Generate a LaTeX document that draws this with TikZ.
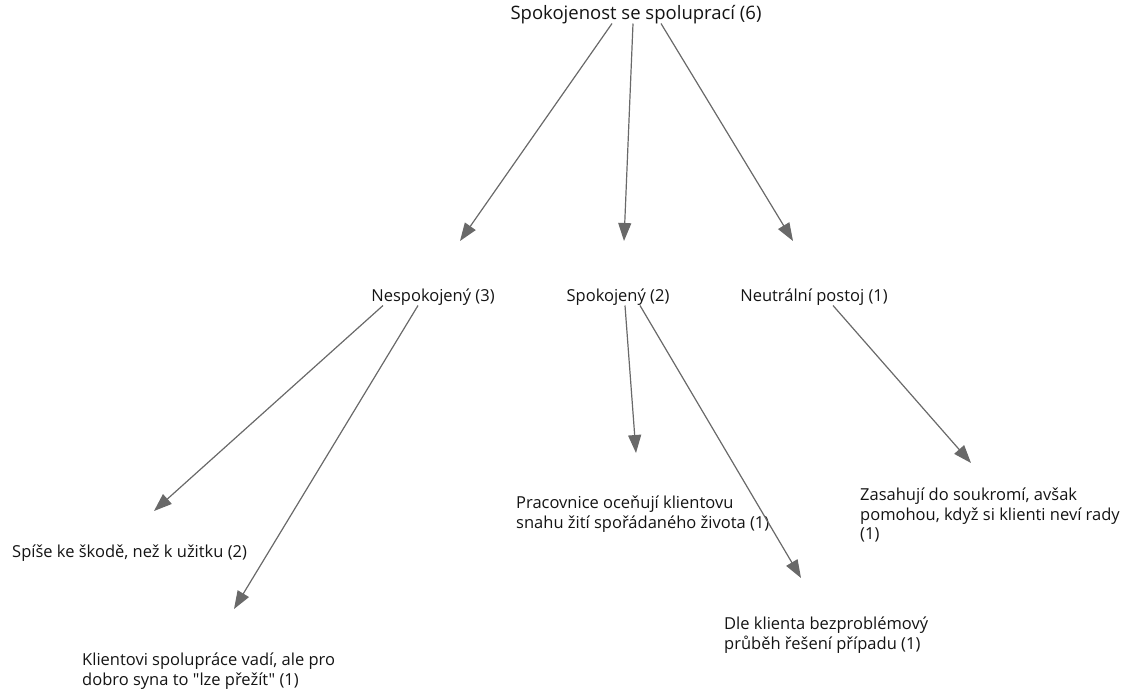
\documentclass[tikz,border=0pt]{standalone}
\usepackage{fontspec}
\setmainfont{Open Sans}[Ligatures=TeXOff]
\usetikzlibrary{arrows.meta}
\definecolor{linegray}{RGB}{105,105,105}
\definecolor{txt}{RGB}{20,20,20}
\tikzset{
  lbl/.style={inner sep=0pt, text=txt, font=\fontsize{16.5}{19.8}\selectfont},
  rootlbl/.style={inner sep=0pt, text=txt, font=\fontsize{18.5}{22}\selectfont},
  lblL/.style={lbl, anchor=west, align=left},
  conn/.style={draw=linegray, line width=1.2pt, -{Triangle[length=18pt,width=13pt,fill=linegray]}}
}
\begin{document}
\begin{tikzpicture}[x=1pt,y=-1pt]
\useasboundingbox (0,0) rectangle (1129,689);
% nodes
\node[rootlbl] (root) at (636,15) {Spokojenost se spoluprací (6)};
\node[lbl] (nesp) at (433,297) {Nespokojený (3)};
\node[lbl] (spok) at (618,297) {Spokojený (2)};
\node[lbl] (neut) at (814,297) {Neutrální postoj (1)};
\node[lblL] (skoda) at (12,553) {Spíše ke škodě, než k užitku (2)};
\node[lblL] (klient) at (82,671) {Klientovi spolupráce vadí, ale pro\\dobro syna to "lze přežít" (1)};
\node[lblL] (prac) at (516,514) {Pracovnice oceňují klientovu\\snahu žití spořádaného života (1)};
\node[lblL] (dle) at (724,635) {Dle klienta bezproblémový\\průběh řešení případu (1)};
\node[lblL] (zas) at (860,515) {Zasahují do soukromí, avšak\\pomohou, když si klienti neví rady\\(1)};
% arrow ends
\coordinate (e1) at (460,241);
\coordinate (e2) at (624,241);
\coordinate (e3) at (793,241);
\coordinate (e4) at (154,511);
\coordinate (e5) at (234,609);
\coordinate (e6) at (636,453);
\coordinate (e7) at (801,578);
\coordinate (e8) at (971,463);
% connectors
\draw[conn] ([xshift=-24pt,yshift=1pt]root.south) -- (e1);
\draw[conn] ([xshift=-3pt,yshift=1pt]root.south) -- (e2);
\draw[conn] ([xshift=25pt,yshift=1pt]root.south) -- (e3);
\draw[conn] ([xshift=-50pt,yshift=0pt]nesp.south) -- (e4);
\draw[conn] ([xshift=-15pt,yshift=0pt]nesp.south) -- (e5);
\draw[conn] ([xshift=7pt,yshift=0pt]spok.south) -- (e6);
\draw[conn] ([xshift=22pt,yshift=0pt]spok.south) -- (e7);
\draw[conn] ([xshift=19pt,yshift=0pt]neut.south) -- (e8);
\end{tikzpicture}
\end{document}
